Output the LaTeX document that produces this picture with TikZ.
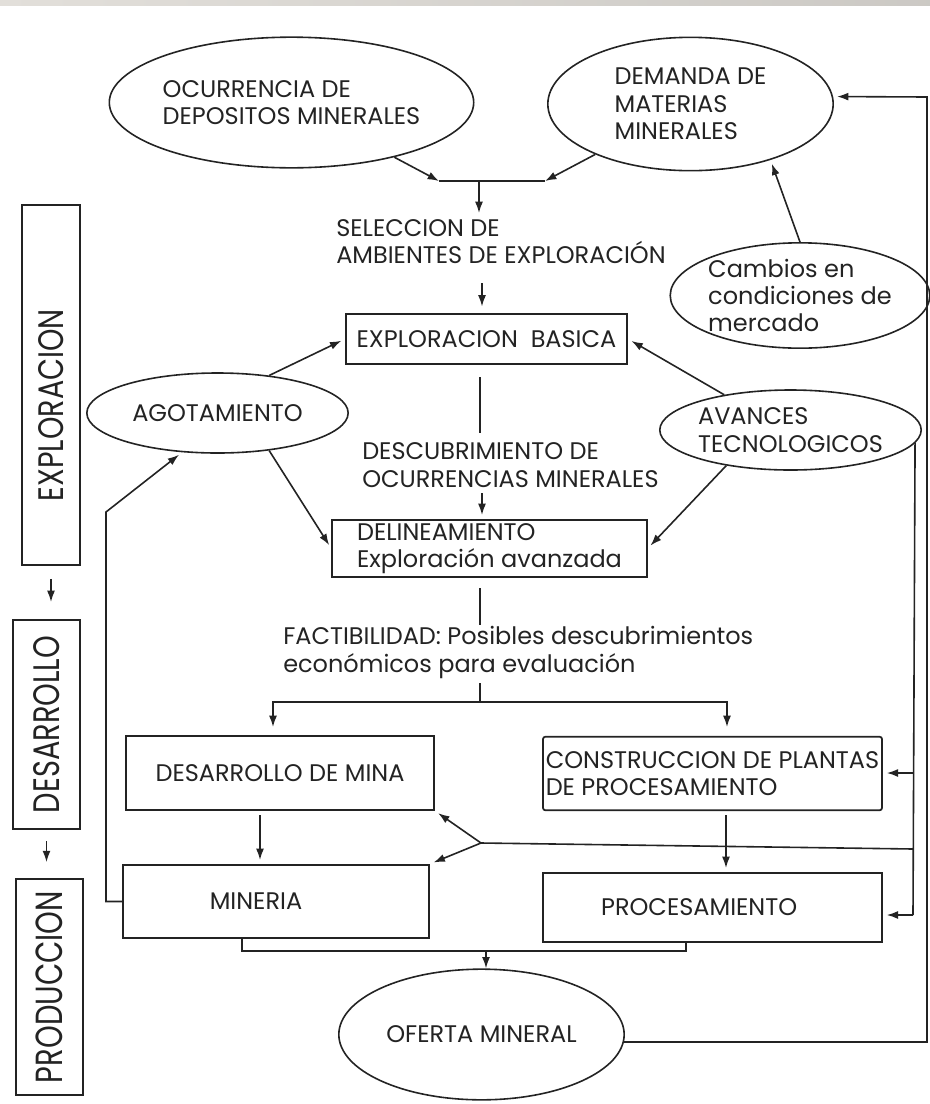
\documentclass[tikz,border=0pt]{standalone}
\usepackage{fontspec}
\setmainfont{Poppins}
\usepackage{xcolor}
\usepackage{graphicx}
\usetikzlibrary{arrows,arrows.meta,positioning,shapes}

\definecolor{trazo}{RGB}{35,35,35}
\definecolor{barra}{RGB}{226,223,218}

\tikzset{
    elipse/.style={ellipse, draw, line width=1.2pt, inner sep=0pt, align=left},
    caja/.style={rectangle, draw, line width=1.3pt, inner sep=2pt, align=left},
    etapa/.style={rectangle, draw, line width=1.3pt, inner sep=0pt, rotate=90},
    rotulo/.style={align=left, inner sep=0pt, anchor=west},
    flecha/.style={-{Latex[length=8.5pt,width=6pt]}, line width=1.2pt, shorten >=3pt},
    linea/.style={-, line width=1.2pt}
}

\begin{document}
\begin{tikzpicture}[x=0.75pt, y=-0.75pt, color=trazo,
        font=\fontsize{18}{20.5}\selectfont]
        \useasboundingbox (0,0) rectangle (930,1104);
        \shade[left color=barra, right color=barra!90!black] (0,0) rectangle (930,5);

        \node (ocur) [
            elipse,
            minimum width=215pt,
            minimum height=98pt
        ] at (291.5,102.5)
        {OCURRENCIA DE\\DEPOSITOS MINERALES};

        \node (demanda) [
            elipse,
            minimum width=214pt,
            minimum height=100pt
        ] at (690.5,104)
        {DEMANDA DE\\MATERIAS\\MINERALES};

        \node (cambios) [
            elipse,
            minimum width=190pt,
            minimum height=79pt
        ] at (800,295.5)
        {Cambios en\\condiciones de\\mercado};

        \node (agot) [
            elipse,
            minimum width=196pt,
            minimum height=60pt
        ] at (217.5,413)
        {AGOTAMIENTO};

        \node (avances) [
            elipse,
            minimum width=196pt,
            minimum height=60pt
        ] at (790.5,430)
        {AVANCES\\TECNOLOGICOS};

        \node (oferta) [
            elipse,
            minimum width=214pt,
            minimum height=98pt
        ] at (481.5,1034.5)
        {OFERTA MINERAL};

        \node (expbas) [
            caja,
            minimum width=211pt,
            minimum height=37.5pt
        ] at (486.5,339)
        {EXPLORACION\ \ BASICA};

        \node (delin) [
            caja,
            minimum width=236pt,
            minimum height=43pt
        ] at (489.5,548.5)
        {DELINEAMIENTO\\Exploración avanzada};

        \node (desmina) [
            caja,
            minimum width=231pt,
            minimum height=55.5pt
        ] at (280,773)
        {DESARROLLO DE MINA};

        \node (constr) [
            caja,
            rounded corners=1.5pt,
            minimum width=253pt,
            minimum height=55pt
        ] at (712.5,773.5)
        {CONSTRUCCION DE PLANTAS\\DE PROCESAMIENTO};

        \node (mineria) [
            caja,
            minimum width=229.5pt,
            minimum height=55pt
        ] at (276,901.5)
        {MINERIA\hspace*{30pt}};

        \node (proc) [
            caja,
            minimum width=254pt,
            minimum height=52pt
        ] at (712.5,907.5)
        {PROCESAMIENTO\hspace*{20pt}};

        \node (lexp) [
            etapa,
            minimum width=270pt,
            minimum height=43.5pt
        ] at (51,385)
        {\resizebox{144pt}{18.75pt}{EXPLORACION}\hspace*{30pt}};

        \node (ldes) [
            etapa,
            minimum width=157pt,
            minimum height=50pt
        ] at (46.5,724.5)
        {\resizebox{133pt}{19.5pt}{DESARROLLO}};

        \node (lprod) [
            etapa,
            minimum width=162pt,
            minimum height=50pt
        ] at (49.5,987)
        {\resizebox{144pt}{20pt}{PRODUCCION}};

        \node (selec) [rotulo] at (336,241.5)
        {SELECCION DE\\AMBIENTES DE EXPLORACIÓN};

        \node (descub) [rotulo] at (362,465)
        {DESCUBRIMIENTO DE\\OCURRENCIAS MINERALES};

        \node (factib) [rotulo] at (283,652.5)
        {FACTIBILIDAD: Posibles descubrimientos\\económicos para evaluación};

        \coordinate (barl) at (439,181);
        \coordinate (barr) at (545,181);
        \coordinate (barm) at (479,181);
        \coordinate (selin) at (479,213);
        \coordinate (s2) at (482,283);
        \coordinate (d1) at (480,377);
        \coordinate (d2) at (480,433);
        \coordinate (d3) at (482,493);
        \coordinate (f1) at (480,588);
        \coordinate (f2) at (480,625);
        \coordinate (f3) at (480,683);
        \coordinate (f4) at (480,702);
        \coordinate (sl) at (273,727);
        \coordinate (sr) at (727,727);
        \coordinate (m1) at (260,815);
        \coordinate (p1) at (726,815);
        \coordinate (j1) at (242,951);
        \coordinate (j2) at (686,951);
        \coordinate (jm) at (486,951);
        \coordinate (fb) at (106,512);
        \coordinate (rc) at (913,773);
        \coordinate (rh) at (913,849);
        \coordinate (rv) at (913,915);
        \coordinate (sp) at (481,843);
        \coordinate (r1) at (927,97);

        \draw[flecha, shorten >=0pt] (ocur) to (barl);
        \draw[flecha, shorten >=0pt] (demanda) to (barr);
        \draw[linea] (barl) to (barr);
        \draw[flecha, shorten >=0pt] (barm) to (selin);
        \draw[flecha, shorten >=5pt] (s2) to (s2 |- expbas.north);
        \draw[linea] (d1) to (d2);
        \draw[flecha] (d3) to (d3 |- delin.north);
        \draw[linea] (f1) to (f2);
        \draw[linea] (f3) to (f4);
        \draw[flecha, shorten >=0pt] (f4) -| (sl);
        \draw[flecha, shorten >=0pt] (f4) -| (sr);

        \draw[flecha] (cambios.north) to (demanda.-35);
        \draw[flecha] (agot.36) to (expbas.west);
        \draw[flecha] (agot.-36) to (delin.west);
        \draw[flecha] (avances.152) to (expbas.east);
        \draw[flecha] (avances.209) to (delin.east);

        \draw[flecha] (m1) to (m1 |- mineria.north);
        \draw[flecha] (p1) to (p1 |- proc.north);
        \draw[linea] (j1 |- mineria.south) -- (j1) -- (j2) -- (j2 |- proc.south);
        \draw[flecha, shorten >=0pt] (jm) to (jm |- oferta.north);

        \draw[flecha] (mineria.west) -| (fb) -- (agot.-132);

        \draw[linea] (avances.-6) -- (rv);
        \draw[flecha] (rc) to (rc -| constr.east);
        \draw[flecha] (rv) to (rv -| proc.east);
        \draw[linea] (rh) -- (sp);
        \draw[flecha] (sp) to (desmina.south east);
        \draw[flecha] (sp) to (mineria.north east);

        \draw[flecha] (oferta.-3) -- (oferta.-3 -| r1) -- (r1) -- (demanda.3);

        \draw[flecha, shorten <=9.75pt, shorten >=12.75pt] (lexp.west) to (lexp.west |- ldes.east);
        \draw[flecha, shorten <=8.25pt, shorten >=12pt] (ldes.west) to (ldes.west |- lprod.east);
\end{tikzpicture}
\end{document}
